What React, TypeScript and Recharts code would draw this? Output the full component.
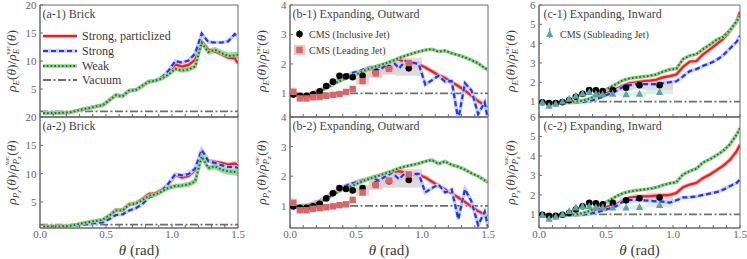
import React from 'react';
import { ComposedChart, Line, Area, Scatter, XAxis, YAxis, ReferenceArea, ReferenceLine, ErrorBar } from 'recharts';

const SERIF = "Liberation Serif, DejaVu Serif, serif";

// ---------- data ----------
const THETA = [0.025, 0.075, 0.125, 0.175, 0.225, 0.275, 0.325, 0.375, 0.425, 0.475, 0.525, 0.575, 0.625, 0.675, 0.725, 0.775, 0.825, 0.875, 0.925, 0.975, 1.025, 1.075, 1.125, 1.175, 1.225, 1.275, 1.325, 1.375, 1.425, 1.475, 1.5];
const X_TICKS = [0, 0.1, 0.2, 0.3, 0.4, 0.5, 0.6, 0.7, 0.8, 0.9, 1.0, 1.1, 1.2, 1.3, 1.4, 1.5];
const X_LABELED = [0, 0.5, 1.0, 1.5];
const VACUUM = 1;

// (a) Brick
const A1_RED = [0.7, 0.7, 0.7, 0.75, 0.8, 1.1, 1.4, 1.6, 1.9, 2.1, 3.0, 3.9, 3.7, 4.7, 4.8, 5.5, 6.3, 6.5, 7.0, 8.0, 9.4, 9.0, 9.3, 10.2, 13.5, 12.0, 11.7, 11.2, 10.6, 10.5, 9.6];
const A1_BLUE = [0.65, 0.65, 0.7, 0.75, 0.8, 1.1, 1.4, 1.6, 1.9, 2.1, 3.0, 4.0, 3.7, 4.8, 4.9, 5.6, 6.4, 6.5, 7.1, 8.3, 10.0, 9.7, 10.1, 11.3, 14.9, 13.4, 13.3, 13.3, 13.5, 14.8, 14.3];
const A1_GREEN = [0.7, 0.7, 0.7, 0.75, 0.8, 1.1, 1.4, 1.6, 1.9, 2.1, 3.0, 3.9, 3.7, 4.7, 4.8, 5.6, 6.3, 6.5, 6.9, 7.6, 8.6, 8.3, 8.5, 9.0, 13.3, 11.6, 12.0, 11.4, 10.9, 11.0, 11.1];
const A1_GREEN_ERR = [0.1, 0.1, 0.1, 0.1, 0.1, 0.15, 0.15, 0.2, 0.2, 0.3, 0.25, 0.3, 0.3, 0.3, 0.3, 0.35, 0.35, 0.35, 0.4, 0.4, 0.4, 0.4, 0.45, 0.45, 0.5, 0.5, 0.55, 0.6, 0.6, 0.65, 0.65];
const A2_RED = [0.65, 0.65, 0.65, 0.7, 0.8, 1.0, 1.25, 1.45, 1.65, 1.85, 2.6, 3.6, 3.6, 4.6, 4.8, 5.5, 6.4, 6.5, 7.2, 8.2, 9.8, 9.3, 9.6, 10.6, 14.0, 12.3, 12.1, 11.9, 11.6, 11.8, 11.5];
const A2_BLUE = [0.6, 0.6, 0.6, 0.65, 0.7, 0.85, 1.0, 1.1, 1.3, 1.4, 2.0, 2.7, 2.8, 3.5, 3.9, 4.6, 5.8, 6.2, 7.0, 8.3, 9.9, 9.7, 9.9, 10.9, 14.2, 12.2, 11.9, 11.5, 11.2, 11.2, 11.0];
const A2_GREEN = [0.65, 0.65, 0.65, 0.7, 0.8, 1.0, 1.25, 1.45, 1.65, 1.85, 2.6, 3.5, 3.5, 4.5, 4.7, 5.3, 6.1, 6.3, 6.9, 7.5, 7.8, 7.9, 8.1, 8.6, 13.0, 11.0, 11.3, 10.7, 10.4, 10.3, 10.2];
const A2_GREEN_ERR = [0.1, 0.1, 0.1, 0.1, 0.1, 0.15, 0.15, 0.2, 0.2, 0.25, 0.25, 0.3, 0.3, 0.3, 0.3, 0.35, 0.35, 0.35, 0.4, 0.4, 0.4, 0.4, 0.45, 0.45, 0.5, 0.5, 0.55, 0.6, 0.6, 0.65, 0.65];

// (b) Expanding, Outward
const B1_RED = [0.95, 0.94, 0.96, 1.02, 1.1, 1.24, 1.36, 1.47, 1.57, 1.64, 1.7, 1.78, 1.85, 1.9, 1.97, 2.1, 2.15, 2.06, 2.02, 1.99, 1.88, 1.75, 1.62, 1.52, 1.38, 1.25, 1.1, 0.92, 0.74, 0.6, 0.53];
const B1_BLUE = [0.95, 0.93, 0.95, 1.0, 1.1, 1.25, 1.38, 1.5, 1.6, 1.7, 1.75, 1.85, 1.9, 1.78, 1.95, 2.1, 1.85, 2.1, 2.05, 2.0, 1.3, 1.45, 1.6, 1.4, 1.42, 0.1, 1.35, 1.1, 0.3, 0.7, 0.1];
const B1_GREEN = [0.95, 0.94, 0.95, 1.0, 1.07, 1.18, 1.3, 1.42, 1.52, 1.6, 1.7, 1.8, 1.88, 1.95, 2.02, 2.1, 2.2, 2.28, 2.35, 2.42, 2.47, 2.5, 2.42, 2.45, 2.36, 2.3, 2.22, 2.13, 2.02, 1.86, 1.8];
const B2_RED = [1.0, 1.0, 1.02, 1.08, 1.17, 1.3, 1.45, 1.58, 1.68, 1.76, 1.84, 1.9, 1.97, 2.03, 2.1, 2.14, 2.17, 2.12, 2.08, 2.05, 1.96, 1.82, 1.68, 1.55, 1.42, 1.28, 1.13, 0.97, 0.82, 0.7, 0.66];
const B2_BLUE = [1.0, 0.98, 1.0, 1.06, 1.15, 1.3, 1.45, 1.58, 1.68, 1.76, 1.82, 1.9, 1.95, 1.85, 2.0, 2.12, 1.9, 2.12, 2.08, 2.08, 1.45, 1.6, 1.72, 1.45, 1.55, 0.55, 1.56, 1.15, 0.35, 0.8, 0.3];
const B2_GREEN = [1.0, 0.99, 1.0, 1.05, 1.12, 1.24, 1.37, 1.5, 1.6, 1.68, 1.78, 1.87, 1.95, 2.02, 2.1, 2.18, 2.27, 2.33, 2.38, 2.43, 2.5, 2.55, 2.42, 2.5, 2.38, 2.32, 2.22, 2.1, 2.0, 1.86, 1.8];

// (c) Expanding, Inward
const C1_RED = [0.97, 0.93, 0.93, 0.94, 0.95, 0.97, 1.0, 1.08, 1.2, 1.35, 1.5, 1.65, 1.82, 1.95, 2.0, 2.05, 2.08, 2.13, 2.25, 2.32, 2.4, 2.8, 3.07, 3.1, 3.45, 3.7, 3.97, 4.25, 4.65, 5.15, 5.65];
const C1_BLUE = [0.97, 0.93, 0.93, 0.94, 0.95, 0.96, 0.98, 1.03, 1.12, 1.25, 1.4, 1.55, 1.75, 1.85, 1.9, 1.9, 1.9, 1.9, 1.95, 2.0, 2.05, 2.3, 2.58, 2.68, 2.85, 2.98, 3.15, 3.4, 3.75, 4.1, 4.4];
const C1_GREEN = [0.97, 0.93, 0.93, 0.95, 0.97, 1.0, 1.05, 1.15, 1.3, 1.5, 1.72, 1.9, 2.1, 2.2, 2.25, 2.29, 2.33, 2.4, 2.55, 2.66, 2.7, 3.2, 3.38, 3.45, 3.72, 3.95, 4.2, 4.35, 4.7, 5.15, 5.45];
const C2_RED = [0.97, 0.93, 0.93, 0.94, 0.95, 0.97, 1.0, 1.08, 1.2, 1.33, 1.42, 1.52, 1.7, 1.86, 1.9, 1.92, 1.93, 1.96, 1.98, 2.0, 2.1, 2.4, 2.53, 2.62, 2.87, 3.05, 3.27, 3.5, 3.8, 4.25, 4.57];
const C2_BLUE = [0.97, 0.93, 0.93, 0.94, 0.95, 0.96, 0.98, 1.02, 1.1, 1.2, 1.3, 1.42, 1.65, 1.74, 1.75, 1.72, 1.7, 1.67, 1.65, 1.6, 1.72, 1.87, 1.88, 1.92, 2.0, 2.07, 2.14, 2.27, 2.45, 2.62, 2.78];
const C2_GREEN = [0.97, 0.93, 0.93, 0.95, 0.97, 1.0, 1.06, 1.17, 1.35, 1.52, 1.72, 1.92, 2.08, 2.17, 2.23, 2.27, 2.32, 2.38, 2.5, 2.6, 2.65, 3.05, 3.22, 3.35, 3.67, 3.83, 4.03, 4.27, 4.6, 5.1, 5.42];

// CMS data
const CMS_BIN_LO = [0, 0.05, 0.1, 0.15, 0.2, 0.25, 0.3, 0.35, 0.4, 0.45, 0.5, 0.6, 0.7, 0.8];
const CMS_BIN_HI = [0.05, 0.1, 0.15, 0.2, 0.25, 0.3, 0.35, 0.4, 0.45, 0.5, 0.6, 0.7, 0.8, 1.0];
const CMS_THETA = [0.025, 0.075, 0.125, 0.175, 0.225, 0.275, 0.325, 0.375, 0.425, 0.475, 0.55, 0.65, 0.75, 0.9];
const CMS_INC_E = [0.96, 0.92, 0.92, 0.97, 1.07, 1.25, 1.4, 1.6, 1.58, 1.55, 1.6, 1.72, 1.85, 1.85];
const CMS_INC_PZ = [0.98, 0.93, 0.93, 0.98, 1.07, 1.25, 1.42, 1.6, 1.57, 1.52, 1.6, 1.72, 1.83, 1.87];
const CMS_INC_ERR = [0.03, 0.03, 0.03, 0.03, 0.03, 0.03, 0.04, 0.04, 0.04, 0.04, 0.03, 0.03, 0.04, 0.04];
const CMS_INC_SYS = [0.05, 0.04, 0.04, 0.04, 0.05, 0.06, 0.07, 0.08, 0.08, 0.08, 0.12, 0.17, 0.22, 0.25];
const CMS_LEAD_E = [1.05, 0.83, 0.83, 0.87, 0.88, 0.92, 0.95, 0.98, 1.05, 1.15, 1.42, 1.68, 1.83, 2.03];
const CMS_LEAD_PZ = [1.1, 0.85, 0.85, 0.9, 0.92, 0.95, 0.98, 1.02, 1.05, 1.2, 1.45, 1.7, 1.85, 2.06];
const CMS_LEAD_ERR = [0.05, 0.03, 0.03, 0.03, 0.03, 0.03, 0.03, 0.03, 0.03, 0.03, 0.03, 0.03, 0.04, 0.04];
const CMS_LEAD_SYS = [0.15, 0.08, 0.08, 0.06, 0.06, 0.06, 0.06, 0.07, 0.08, 0.09, 0.12, 0.15, 0.15, 0.18];
const CMS_SUB_E = [0.97, 0.78, 0.88, 1.0, 1.15, 1.3, 1.42, 1.5, 1.4, 1.38, 1.4, 1.38, 1.4, 1.5];
const CMS_SUB_PZ = [0.97, 0.78, 0.88, 1.0, 1.17, 1.35, 1.42, 1.42, 1.37, 1.35, 1.35, 1.35, 1.38, 1.48];
const CMS_SUB_ERR = [0.08, 0.1, 0.06, 0.05, 0.05, 0.05, 0.05, 0.05, 0.05, 0.05, 0.04, 0.04, 0.04, 0.05];
const CMS_SUB_SYS = [0.08, 0.08, 0.06, 0.06, 0.06, 0.06, 0.07, 0.08, 0.08, 0.08, 0.1, 0.1, 0.12, 0.12];

// ---------- styles ----------
const RED = '#ff1a1a';
const RED_BAND = '#ffb0b0';
const BLUE = '#1f35ff';
const BLUE_BAND = '#c2cbff';
const GREEN = '#177a17';
const GREEN_BAND = '#8fd08f';
const VAC = '#6e6e6e';
const AXIS = '#6a6a6a';
const TXT = '#3a3a3a';

const rows = (xs: number[], ys: number[], err?: number[]) =>
  xs.map((x, i) => ({ x, y: ys[i], band: err ? [ys[i] - err[i], ys[i] + err[i]] : undefined }));

const cmsRows = (vals: number[], err: number[], sys: number[]) =>
  CMS_THETA.map((x, i) => ({ x, y: vals[i], e: err[i], lo: vals[i] - sys[i], hi: vals[i] + sys[i], x1: CMS_BIN_LO[i], x2: CMS_BIN_HI[i] }));

const Circle = (p: any) => <circle cx={p.cx} cy={p.cy} r={3.3} fill="#000" />;
const Square = (p: any) => <rect x={p.cx - 3.2} y={p.cy - 3.2} width={6.4} height={6.4} fill="#d96666" />;
const Tri = (p: any) => <polygon points={`${p.cx},${p.cy - 4} ${p.cx - 3.6},${p.cy + 3} ${p.cx + 3.6},${p.cy + 3}`} fill="#5da3a3" />;

const CMS_STYLE: any = {
  inc: { shape: Circle, box: '#cfcfcf', bar: '#000' },
  lead: { shape: Square, box: '#f2c4c4', bar: '#d96666' },
  sub: { shape: Tri, box: '#cfe8e6', bar: '#5da3a3' },
};

const Y_AXIS_W = 30;
const M_TOP = 8;
const M_RIGHT = 10;

function Panel({ p }: { p: any }) {
  const xH = p.showX ? 24 : 1;
  const W = Y_AXIS_W + p.plotW + M_RIGHT;
  const H = M_TOP + p.plotH + xH;
  const cms = (p.cms || []).map((c: any) => ({ ...c, data: cmsRows(c.vals, c.err, c.sys) }));
  return (
    <div style={{ position: 'absolute', left: p.plotLeft - Y_AXIS_W, top: p.plotTop - M_TOP }}>
      <ComposedChart width={W} height={H} margin={{ top: M_TOP, right: M_RIGHT, bottom: 0, left: 0 }}>
        <XAxis
          dataKey="x"
          type="number"
          domain={[0, 1.5]}
          ticks={X_TICKS}
          interval={0}
          allowDataOverflow
          height={xH}
          tickSize={-3}
          tickMargin={5}
          axisLine={{ stroke: AXIS }}
          tickLine={{ stroke: AXIS }}
          tick={{ fontSize: 11, fill: '#666', fontFamily: SERIF }}
          tickFormatter={(v: number) =>
            p.showX && X_LABELED.some((t) => Math.abs(t - v) < 1e-6) ? v.toFixed(1) : ''
          }
        />
        <YAxis
          type="number"
          domain={p.yDomain}
          ticks={p.yTicks}
          interval={0}
          allowDataOverflow
          width={Y_AXIS_W}
          tickSize={-3}
          tickMargin={6.5}
          axisLine={{ stroke: AXIS }}
          tickLine={{ stroke: AXIS }}
          tick={{ fontSize: 11, fill: '#666', fontFamily: SERIF }}
        />
        {cms.map((c: any, k: number) =>
          c.data.map((d: any, i: number) => (
            <ReferenceArea key={`box${k}-${i}`} x1={d.x1} x2={d.x2} y1={d.lo} y2={d.hi} fill={CMS_STYLE[c.kind].box} fillOpacity={0.75} stroke="none" ifOverflow="hidden" />
          ))
        )}
        {p.greenErr && (
          <Area data={rows(THETA, p.green, p.greenErr)} dataKey="band" type="linear" stroke="none" fill={GREEN_BAND} fillOpacity={0.8} isAnimationActive={false} dot={false} activeDot={false} />
        )}
        <ReferenceLine y={VACUUM} stroke={VAC} strokeWidth={1.8} strokeDasharray="8 2.5 2 2.5" />
        <Line data={rows(THETA, p.red)} dataKey="y" type="linear" stroke={RED_BAND} strokeWidth={4} dot={false} activeDot={false} isAnimationActive={false} />
        <Line data={rows(THETA, p.red)} dataKey="y" type="linear" stroke={RED} strokeWidth={2.2} dot={false} activeDot={false} isAnimationActive={false} />
        <Line data={rows(THETA, p.blue)} dataKey="y" type="linear" stroke={BLUE_BAND} strokeWidth={3.5} dot={false} activeDot={false} isAnimationActive={false} />
        <Line data={rows(THETA, p.blue)} dataKey="y" type="linear" stroke={BLUE} strokeWidth={2.2} strokeDasharray="5 3" dot={false} activeDot={false} isAnimationActive={false} />
        <Line data={rows(THETA, p.green)} dataKey="y" type="linear" stroke={GREEN_BAND} strokeWidth={3.5} dot={false} activeDot={false} isAnimationActive={false} />
        <Line data={rows(THETA, p.green)} dataKey="y" type="linear" stroke={GREEN} strokeWidth={2} strokeDasharray="1.6 2.2" dot={false} activeDot={false} isAnimationActive={false} />
        {cms.map((c: any, k: number) => (
          <Scatter key={`sc${k}`} data={c.data} dataKey="y" shape={CMS_STYLE[c.kind].shape} isAnimationActive={false}>
            <ErrorBar dataKey="e" direction="y" width={0} stroke={CMS_STYLE[c.kind].bar} strokeWidth={1.2} />
          </Scatter>
        ))}
        <ReferenceArea x1={0} x2={1.5} y1={p.yDomain[0]} y2={p.yDomain[1]} fill="none" stroke={AXIS} strokeWidth={1} ifOverflow="visible" />
      </ComposedChart>
    </div>
  );
}

const PANELS = [
  { plotLeft: 40, plotTop: 5, plotW: 198, plotH: 112, showX: false, yDomain: [0, 20], yTicks: [5, 10, 15, 20], red: A1_RED, blue: A1_BLUE, green: A1_GREEN, greenErr: A1_GREEN_ERR },
  { plotLeft: 40, plotTop: 117, plotW: 198, plotH: 111, showX: true, yDomain: [0.4, 20], yTicks: [5, 10, 15, 20], red: A2_RED, blue: A2_BLUE, green: A2_GREEN, greenErr: A2_GREEN_ERR },
  { plotLeft: 290, plotTop: 5, plotW: 198, plotH: 112, showX: false, yDomain: [0.2, 4], yTicks: [1, 2, 3, 4], red: B1_RED, blue: B1_BLUE, green: B1_GREEN,
    cms: [{ kind: 'inc', vals: CMS_INC_E, err: CMS_INC_ERR, sys: CMS_INC_SYS }, { kind: 'lead', vals: CMS_LEAD_E, err: CMS_LEAD_ERR, sys: CMS_LEAD_SYS }] },
  { plotLeft: 290, plotTop: 117, plotW: 198, plotH: 111, showX: true, yDomain: [0.25, 4], yTicks: [1, 2, 3, 4], red: B2_RED, blue: B2_BLUE, green: B2_GREEN,
    cms: [{ kind: 'inc', vals: CMS_INC_PZ, err: CMS_INC_ERR, sys: CMS_INC_SYS }, { kind: 'lead', vals: CMS_LEAD_PZ, err: CMS_LEAD_ERR, sys: CMS_LEAD_SYS }] },
  { plotLeft: 539, plotTop: 5, plotW: 201, plotH: 112, showX: false, yDomain: [0.2, 6], yTicks: [1, 2, 3, 4, 5, 6], red: C1_RED, blue: C1_BLUE, green: C1_GREEN,
    cms: [{ kind: 'inc', vals: CMS_INC_E, err: CMS_INC_ERR, sys: CMS_INC_SYS }, { kind: 'sub', vals: CMS_SUB_E, err: CMS_SUB_ERR, sys: CMS_SUB_SYS }] },
  { plotLeft: 539, plotTop: 117, plotW: 201, plotH: 111, showX: true, yDomain: [0.3, 6], yTicks: [1, 2, 3, 4, 5, 6], red: C2_RED, blue: C2_BLUE, green: C2_GREEN,
    cms: [{ kind: 'inc', vals: CMS_INC_PZ, err: CMS_INC_ERR, sys: CMS_INC_SYS }, { kind: 'sub', vals: CMS_SUB_PZ, err: CMS_SUB_ERR, sys: CMS_SUB_SYS }] },
];

const TITLES = [
  { text: '(a-1) Brick', x: 42.5, y: 18 },
  { text: '(a-2) Brick', x: 42.5, y: 130 },
  { text: '(b-1) Expanding, Outward', x: 292.5, y: 18 },
  { text: '(b-2) Expanding, Outward', x: 292.5, y: 130 },
  { text: '(c-1) Expanding, Inward', x: 543.5, y: 18 },
  { text: '(c-2) Expanding, Inward', x: 543.5, y: 130 },
];

function YLabelE({ x, y }: { x: number; y: number }) {
  return (
    <text transform={`translate(${x},${y}) rotate(-90)`} textAnchor="middle" fontSize={13.5} style={{ fontFamily: SERIF }} fill={TXT}>
      <tspan fontStyle="italic">ρ</tspan>
      <tspan fontStyle="italic" fontSize={9} dy={3}>E</tspan>
      <tspan dy={-3}>(</tspan>
      <tspan fontStyle="italic">θ</tspan>
      <tspan>)/</tspan>
      <tspan fontStyle="italic">ρ</tspan>
      <tspan fontStyle="italic" fontSize={9} dy={3}>E</tspan>
      <tspan fontSize={6.5} dx={-6} dy={-9}>vac</tspan>
      <tspan dy={6}>(</tspan>
      <tspan fontStyle="italic">θ</tspan>
      <tspan>)</tspan>
    </text>
  );
}

function YLabelPz({ x, y }: { x: number; y: number }) {
  return (
    <text transform={`translate(${x},${y}) rotate(-90)`} textAnchor="middle" fontSize={13.5} style={{ fontFamily: SERIF }} fill={TXT}>
      <tspan fontStyle="italic">ρ</tspan>
      <tspan fontStyle="italic" fontSize={9} dy={3}>P</tspan>
      <tspan fontStyle="italic" fontSize={6.5} dy={2}>z</tspan>
      <tspan dy={-5}>(</tspan>
      <tspan fontStyle="italic">θ</tspan>
      <tspan>)/</tspan>
      <tspan fontStyle="italic">ρ</tspan>
      <tspan fontStyle="italic" fontSize={9} dy={3}>P</tspan>
      <tspan fontStyle="italic" fontSize={6.5} dy={2}>z</tspan>
      <tspan fontSize={6.5} dx={-8.5} dy={-12}>vac</tspan>
      <tspan dy={7}>(</tspan>
      <tspan fontStyle="italic">θ</tspan>
      <tspan>)</tspan>
    </text>
  );
}

function Overlay() {
  const legendA = [
    { label: 'Strong, particlized', y: 36, stroke: RED, band: RED_BAND, dash: undefined },
    { label: 'Strong', y: 51, stroke: BLUE, band: BLUE_BAND, dash: '5 3' },
    { label: 'Weak', y: 66, stroke: GREEN, band: GREEN_BAND, dash: '1.6 2.2' },
    { label: 'Vacuum', y: 80, stroke: VAC, band: undefined, dash: '8 2.5 2 2.5' },
  ];
  const f = { fontFamily: SERIF };
  return (
    <svg width={747} height={259} style={{ position: 'absolute', left: 0, top: 0, pointerEvents: 'none' }}>
      {TITLES.map((t, i) => (
        <text key={i} x={t.x} y={t.y} fontSize={12} style={f} fill="#444">{t.text}</text>
      ))}
      {legendA.map((l, i) => (
        <g key={i}>
          {l.band && <line x1={43} x2={77} y1={l.y} y2={l.y} stroke={l.band} strokeWidth={3.5} />}
          <line x1={43} x2={77} y1={l.y} y2={l.y} stroke={l.stroke} strokeWidth={2.2} strokeDasharray={l.dash} />
          <text x={82} y={l.y + 4} fontSize={12} style={f} fill={TXT}>{l.label}</text>
        </g>
      ))}
      {/* CMS legends */}
      <line x1={299.5} x2={299.5} y1={30} y2={38} stroke="#000" strokeWidth={1.2} />
      <circle cx={299.5} cy={34} r={3.3} fill="#000" />
      <text x={309} y={37.5} fontSize={10} style={f} fill={TXT}>CMS (Inclusive Jet)</text>
      <rect x={294} y={45} width={11} height={10} fill="#f2c4c4" />
      <rect x={296.3} y={46.8} width={6.4} height={6.4} fill="#d96666" />
      <text x={309} y={53.5} fontSize={10} style={f} fill={TXT}>CMS (Leading Jet)</text>
      <line x1={549.7} x2={549.7} y1={28} y2={38} stroke="#5da3a3" strokeWidth={1.2} />
      <polygon points="549.7,30 546.1,37 553.3,37" fill="#5da3a3" />
      <text x={560} y={37.5} fontSize={10} style={f} fill={TXT}>CMS (Subleading Jet)</text>
      {/* y labels */}
      <YLabelE x={16} y={61} />
      <YLabelPz x={16} y={172.5} />
      <YLabelE x={266} y={61} />
      <YLabelPz x={266} y={172.5} />
      <YLabelE x={515} y={61} />
      <YLabelPz x={515} y={172.5} />
      {/* x labels */}
      {[139, 389, 639.5].map((cx, i) => (
        <text key={i} x={cx} y={255} textAnchor="middle" fontSize={15} style={f} fill={TXT}>
          <tspan fontStyle="italic">θ</tspan> (rad)
        </text>
      ))}
    </svg>
  );
}

export default function App() {
  return (
    <div style={{ position: 'absolute', left: 0, top: 0, width: 747, height: 259, background: '#fff', overflow: 'hidden', fontFamily: SERIF }}>
      {PANELS.map((p, i) => (
        <Panel key={i} p={p} />
      ))}
      <Overlay />
    </div>
  );
}
